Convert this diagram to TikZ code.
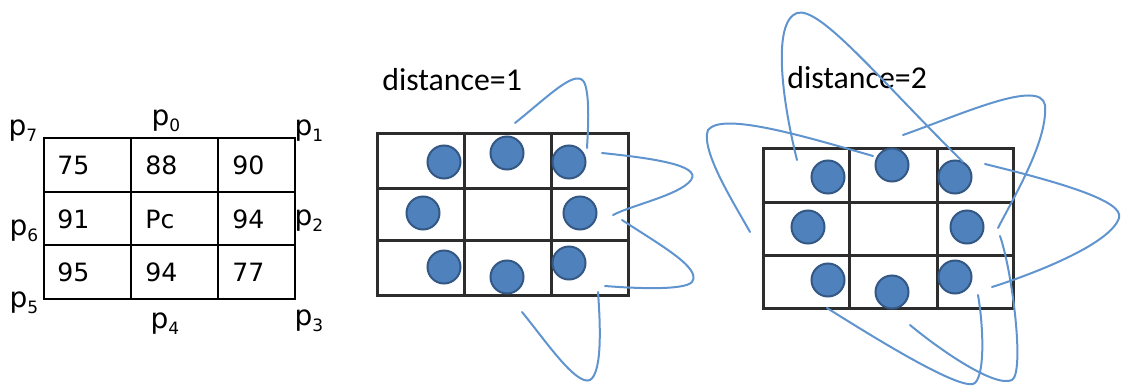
\documentclass[tikz,border=0pt]{standalone}
\usepackage{fontspec}
\setmainfont{DejaVu Sans}
\newfontfamily\calfont{Carlito}
\usetikzlibrary{positioning}
\definecolor{dotblue}{RGB}{79,129,189}
\definecolor{dotedge}{RGB}{52,88,132}
\definecolor{penblue}{RGB}{96,148,206}
\definecolor{gridgray}{RGB}{45,45,45}
\tikzset{
  cellnum/.style={anchor=west,inner sep=0pt,font=\fontsize{12.6}{14}\selectfont},
  plabel/.style={inner sep=0pt,font=\fontsize{14}{16}\selectfont},
  distlabel/.style={anchor=base west,inner sep=0pt,font=\calfont\fontsize{15.9}{18}\selectfont},
  pixdot/.style={circle,fill=dotblue,draw=dotedge,line width=1pt,minimum size=16.5pt,inner sep=0pt},
  penloop/.style={draw=penblue,line width=1pt,line cap=round},
  pgrid/.style={draw=black,line width=1.2pt},
  dgrid/.style={draw=gridgray,line width=1.5pt}
}
\newcommand{\pp}[1]{p\raisebox{-0.4ex}{\fontsize{8.5}{9}\selectfont#1}}

\begin{document}
\begin{tikzpicture}[x=0.5pt,y=-0.5pt]
  \useasboundingbox (0,0) rectangle (1121,386);
  % neighbourhood with values
  \draw[pgrid] (44,138) rectangle (295,299);
  \foreach \x in {131,218} \draw[pgrid] (\x,138) -- (\x,299);
  \foreach \y in {192,245} \draw[pgrid] (44,\y) -- (295,\y);
  \foreach \t/\x/\y/\n in {75/57/165/a,88/145/165/b,90/232/165/c,
      91/57/219/d,Pc/145/219/e,94/232/219/f,
      95/57/272/g,94/145/272/h,77/232/272/i}
    \node[cellnum] (v\n) at (\x,\y) {\t};
  \foreach \i/\x/\y in {7/23/131,0/166/121,1/309/131,6/24/231,
      2/309/221,5/24/303,3/309/321,4/165/324}
    \node[plabel] (p\i) at (\x,\y) {\pp{\i}};

  % distance = 1
  \node[distlabel] (dist1) at (382,90) {distance=1};
  \draw[dgrid] (377,133) rectangle (628,295);
  \foreach \x in {464,551} \draw[dgrid] (\x,133) -- (\x,295);
  \foreach \y in {188,240} \draw[dgrid] (377,\y) -- (628,\y);
  \foreach \n/\x/\y in {a/444/162,b/507/153,c/569/162,d/423/213,
      e/580/213,f/444/267,g/507/277,h/569/263}
    \node[pixdot] (s\n) at (\x,\y) {};
  \draw[penloop] (515,123) .. controls (550,95) and (578,66) .. (585,84)
    .. controls (590,100) and (588,130) .. (587,148);
  \draw[penloop] (602,153) .. controls (650,158) and (702,165) .. (691,180)
    .. controls (680,195) and (632,205) .. (613,215);
  \draw[penloop] (622,220) .. controls (660,245) and (702,268) .. (692,282)
    .. controls (684,291) and (630,288) .. (605,286);
  \draw[penloop] (598,292) .. controls (600,320) and (603,372) .. (590,380)
    .. controls (576,386) and (545,340) .. (522,312);

  % distance = 2
  \node[distlabel] (dist2) at (787,88) {distance=2};
  \draw[dgrid] (763,148) rectangle (1013,308);
  \foreach \x in {849,937} \draw[dgrid] (\x,148) -- (\x,308);
  \foreach \y in {202,255} \draw[dgrid] (763,\y) -- (1013,\y);
  \foreach \n/\x/\y in {a/828/177,b/892/165,c/955/177,d/808/227,
      e/967/227,f/828/280,g/892/292,h/955/277}
    \node[pixdot] (t\n) at (\x,\y) {};
  \draw[penloop] (797,160) .. controls (782,100) and (772,22) .. (797,13)
    .. controls (820,6) and (880,80) .. (963,162);
  \draw[penloop] (873,156) .. controls (800,135) and (722,112) .. (708,130)
    .. controls (700,150) and (735,205) .. (750,232);
  \draw[penloop] (903,135) .. controls (960,115) and (1040,78) .. (1045,105)
    .. controls (1048,140) and (1015,195) .. (998,228);
  \draw[penloop] (985,164) .. controls (1050,180) and (1125,200) .. (1119,218)
    .. controls (1110,245) and (1030,275) .. (992,287);
  \draw[penloop] (1000,236) .. controls (1012,270) and (1025,372) .. (1012,380)
    .. controls (995,388) and (940,350) .. (910,325);
  \draw[penloop] (978,295) .. controls (984,330) and (985,380) .. (973,384)
    .. controls (955,388) and (870,335) .. (827,308);
\end{tikzpicture}
\end{document}
